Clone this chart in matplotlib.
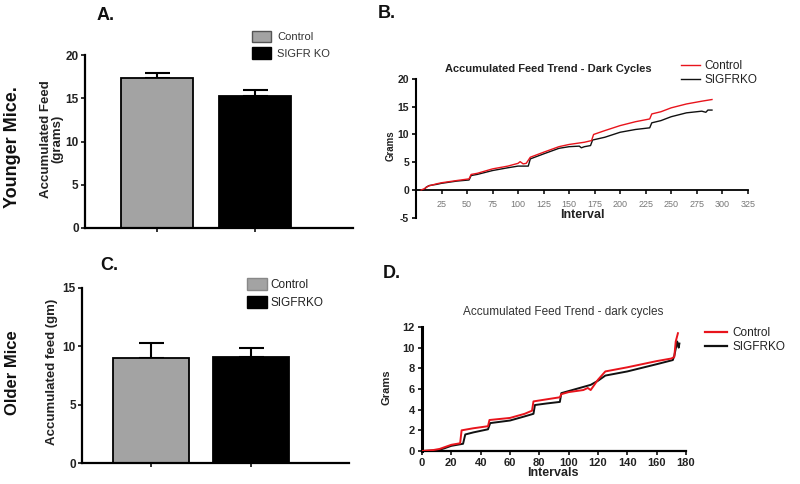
import matplotlib
matplotlib.use("Agg")
import matplotlib.pyplot as plt
from matplotlib.patches import Patch
from matplotlib.lines import Line2D

plt.rcParams['font.family'] = ['Liberation Sans', 'DejaVu Sans']
plt.rcParams['axes.unicode_minus'] = False

# ---------------- data ----------------
groups = ["Control", "SIGFRKO"]
young_means = [17.3, 15.3]
young_err = [0.6, 0.7]
old_means = [9.0, 9.1]
old_err = [1.3, 0.75]

b_ctrl_x = [5, 8, 12, 20, 25, 40, 52, 54, 60, 75, 90, 100, 102, 105, 108, 112, 125, 140, 150, 165, 172, 174,
            185, 200, 215, 229, 231, 240, 250, 265, 280, 290]
b_ctrl_y = [0, 0.2, 0.7, 1.1, 1.3, 1.7, 2.0, 2.8, 3.0, 3.8, 4.3, 4.8, 5.1, 4.7, 4.8, 5.9, 6.8, 7.8, 8.2, 8.6, 8.9, 10.0,
            10.7, 11.6, 12.3, 12.8, 13.7, 14.1, 14.8, 15.5, 16.0, 16.3]
b_ko_x = [5, 8, 10, 13, 20, 25, 40, 52, 54, 60, 75, 90, 100, 110, 112, 125, 140, 150, 160, 162, 165, 171, 173,
          185, 200, 215, 229, 231, 240, 250, 265, 280, 284, 286, 290]
b_ko_y = [0, 0.1, 0.5, 0.8, 1.0, 1.2, 1.6, 1.8, 2.6, 2.8, 3.5, 4.0, 4.3, 4.3, 5.6, 6.5, 7.5, 7.8, 7.9, 7.6, 7.8, 8.0, 9.0,
          9.5, 10.4, 10.9, 11.2, 12.1, 12.5, 13.2, 13.9, 14.2, 14.0, 14.4, 14.4]

d_ctrl_x = [0, 8, 12, 20, 26, 27, 35, 45, 46, 60, 70, 75, 76, 85, 94, 95, 100, 110, 113, 115, 120, 125, 140, 160,
            170, 172, 173, 174.5]
d_ctrl_y = [0, 0.1, 0.2, 0.6, 0.75, 2.0, 2.2, 2.4, 3.0, 3.2, 3.6, 3.9, 4.8, 5.0, 5.2, 5.5, 5.7, 5.9, 6.1, 5.9, 6.9, 7.7,
            8.1, 8.7, 8.95, 9.1, 10.6, 11.4]
d_ko_x = [0, 10, 15, 20, 28, 29.5, 35, 45, 46.5, 60, 70, 76, 77, 85, 94, 95, 100, 110, 115, 120, 125, 140, 160,
          171, 172, 174, 175, 175.5]
d_ko_y = [0, 0.05, 0.25, 0.5, 0.7, 1.6, 1.8, 2.1, 2.7, 2.95, 3.35, 3.6, 4.45, 4.6, 4.75, 5.6, 5.8, 6.2, 6.4, 6.8, 7.3,
          7.7, 8.4, 8.8, 9.2, 10.6, 10.0, 10.4]

bar_colors = ["#a3a3a3", "#000000"]
line_colors = ["#e8141c", "#111111"]

W, H = 800, 484
fig = plt.figure(figsize=(8, 4.84), dpi=100)


def fx(px):
    return px / W


def fy(py):
    return 1 - py / H


def rect(l, t, r, b):
    return [fx(l), fy(b), fx(r) - fx(l), (b - t) / H]


def bar_panel(ax, means, errs, ylim, yticks, xlim, width):
    x = [0, 1]
    ax.bar(x, means, width=width, color=bar_colors, edgecolor="black", linewidth=1.3, zorder=2)
    ax.errorbar(x, means, yerr=[[0, 0], errs], fmt="none", ecolor="black", elinewidth=1.5,
                capsize=9, capthick=1.5, zorder=1)
    ax.set_xlim(*xlim)
    ax.set_ylim(*ylim)
    ax.set_yticks(yticks)
    ax.set_xticks(x)
    ax.set_xticklabels([])
    for s in ["top", "right"]:
        ax.spines[s].set_visible(False)
    for s in ["left", "bottom"]:
        ax.spines[s].set_linewidth(1.6)
    ax.tick_params(axis="both", direction="out", length=3, width=1.3, labelsize=8.5, colors="#222222", pad=1.5)
    for lab in ax.get_yticklabels():
        lab.set_fontweight("bold")


# ---------------- A ----------------
axA = fig.add_axes(rect(85, 55, 353, 228))
bar_panel(axA, young_means, young_err, (0, 20), [0, 5, 10, 15, 20], (-0.735, 2.0), 0.74)
fig.text(fx(52), fy(139), "Accumulated Feed\n(grams)", fontsize=9.5, fontweight="bold", rotation=90,
         ha="center", va="center", linespacing=0.95, color="#222222")
axA.legend(handles=[Patch(facecolor=bar_colors[0], edgecolor="#555555"), Patch(facecolor=bar_colors[1], edgecolor="black")],
           labels=["Control", "SIGFR KO"], loc="upper left", bbox_to_anchor=(fx(252), fy(31)),
           bbox_transform=fig.transFigure, frameon=False, fontsize=8, handlelength=1.75, handleheight=1.2,
           handletextpad=0.5, labelspacing=0.45, borderpad=0, borderaxespad=0, labelcolor="#333333")

# ---------------- C ----------------
axC = fig.add_axes(rect(82, 288, 349, 463))
bar_panel(axC, old_means, old_err, (0, 15), [0, 5, 10, 15], (-0.69, 1.98), 0.76)
fig.text(fx(52), fy(372), "Accumulated feed (gm)", fontsize=9.5, fontweight="bold", rotation=90,
         ha="center", va="center", color="#222222")
axC.legend(handles=[Patch(facecolor=bar_colors[0], edgecolor="#888888"), Patch(facecolor=bar_colors[1], edgecolor="black")],
           labels=["Control", "SIGFRKO"], loc="upper left", bbox_to_anchor=(fx(247), fy(278)),
           bbox_transform=fig.transFigure, frameon=False, fontsize=8.5, handlelength=1.7, handleheight=1.2,
           handletextpad=0.3, labelspacing=0.45, borderpad=0, borderaxespad=0, labelcolor="#222222")

# ---------------- B ----------------
axB = fig.add_axes(rect(416, 79, 747.7, 217.7))
axB.plot(b_ctrl_x, b_ctrl_y, color=line_colors[0], lw=1.0, zorder=3)
axB.plot(b_ko_x, b_ko_y, color=line_colors[1], lw=1.0, zorder=2)
axB.set_xlim(0, 325)
axB.set_ylim(-5, 20)
axB.set_xticks(range(25, 326, 25))
axB.set_yticks([-5, 0, 5, 10, 15, 20])
axB.spines["bottom"].set_position(("data", 0))
for s in ["top", "right"]:
    axB.spines[s].set_visible(False)
axB.spines["left"].set_linewidth(1.5)
axB.spines["bottom"].set_linewidth(1.3)
axB.tick_params(axis="x", direction="out", length=3, width=1.1, labelsize=6.5, labelcolor="#777777", pad=4)
axB.tick_params(axis="y", direction="out", length=3, width=1.2, labelsize=7.5, labelcolor="#222222", pad=2)
for lab in axB.get_yticklabels():
    lab.set_fontweight("bold")
fig.text(fx(391), fy(146), "Grams", fontsize=7, fontweight="bold", rotation=90,
         ha="center", va="center", color="#222222")
fig.text(fx(582), fy(215), "Interval", fontsize=9, fontweight="bold", ha="center", va="center", color="#222222")
fig.text(fx(548), fy(69), "Accumulated Feed Trend - Dark Cycles", fontsize=8, fontweight="bold",
         ha="center", va="center", color="#222222")
axB.legend(handles=[Line2D([], [], color=line_colors[0], lw=1.0), Line2D([], [], color=line_colors[1], lw=1.0)],
           labels=["Control", "SIGFRKO"], loc="upper left", bbox_to_anchor=(fx(681), fy(60)),
           bbox_transform=fig.transFigure, frameon=False, fontsize=8.5, handlelength=1.6,
           handletextpad=0.35, labelspacing=0.2, borderpad=0, borderaxespad=0, labelcolor="#222222")

# ---------------- D ----------------
axD = fig.add_axes(rect(422, 327, 686, 451))
axD.plot(d_ctrl_x, d_ctrl_y, color=line_colors[0], lw=1.4, zorder=3)
axD.plot(d_ko_x, d_ko_y, color=line_colors[1], lw=1.4, zorder=2)
axD.set_xlim(0, 180)
axD.set_ylim(0, 12)
axD.set_xticks(range(0, 181, 20))
axD.set_yticks(range(0, 13, 2))
for s in ["top", "right"]:
    axD.spines[s].set_visible(False)
axD.spines["left"].set_linewidth(2.2)
axD.spines["bottom"].set_linewidth(1.6)
axD.tick_params(axis="both", direction="out", length=3, width=1.3, labelsize=8, colors="#222222", pad=2)
for lab in axD.get_yticklabels() + axD.get_xticklabels():
    lab.set_fontweight("bold")
fig.text(fx(387), fy(387), "Grams", fontsize=8, fontweight="bold", rotation=90,
         ha="center", va="center", color="#222222")
fig.text(fx(553), fy(473), "Intervals", fontsize=9, fontweight="bold", ha="center", va="center", color="#222222")
fig.text(fx(563), fy(312), "Accumulated Feed Trend - dark cycles", fontsize=8.5,
         ha="center", va="center", color="#333333")
axD.legend(handles=[Line2D([], [], color=line_colors[0], lw=1.6), Line2D([], [], color=line_colors[1], lw=1.6)],
           labels=["Control", "SIGFRKO"], loc="upper left", bbox_to_anchor=(fx(705), fy(327)),
           bbox_transform=fig.transFigure, frameon=False, fontsize=8.5, handlelength=1.9,
           handletextpad=0.4, labelspacing=0.15, borderpad=0, borderaxespad=0, labelcolor="#222222")

# ---------------- panel letters & row labels ----------------
for lbl, x, y in [("A.", 97, 16), ("B.", 378, 14), ("C.", 100, 265), ("D.", 383, 273)]:
    fig.text(fx(x), fy(y), lbl, fontsize=13, fontweight="bold", ha="left", va="center", color="#111111")

fig.text(fx(13), fy(147), "Younger Mice.", fontsize=13, fontweight="bold", rotation=90,
         ha="center", va="center", color="#111111")
fig.text(fx(13), fy(373), "Older Mice", fontsize=12, fontweight="bold", rotation=90,
         ha="center", va="center", color="#111111")

fig.savefig("out.png", dpi=100)
